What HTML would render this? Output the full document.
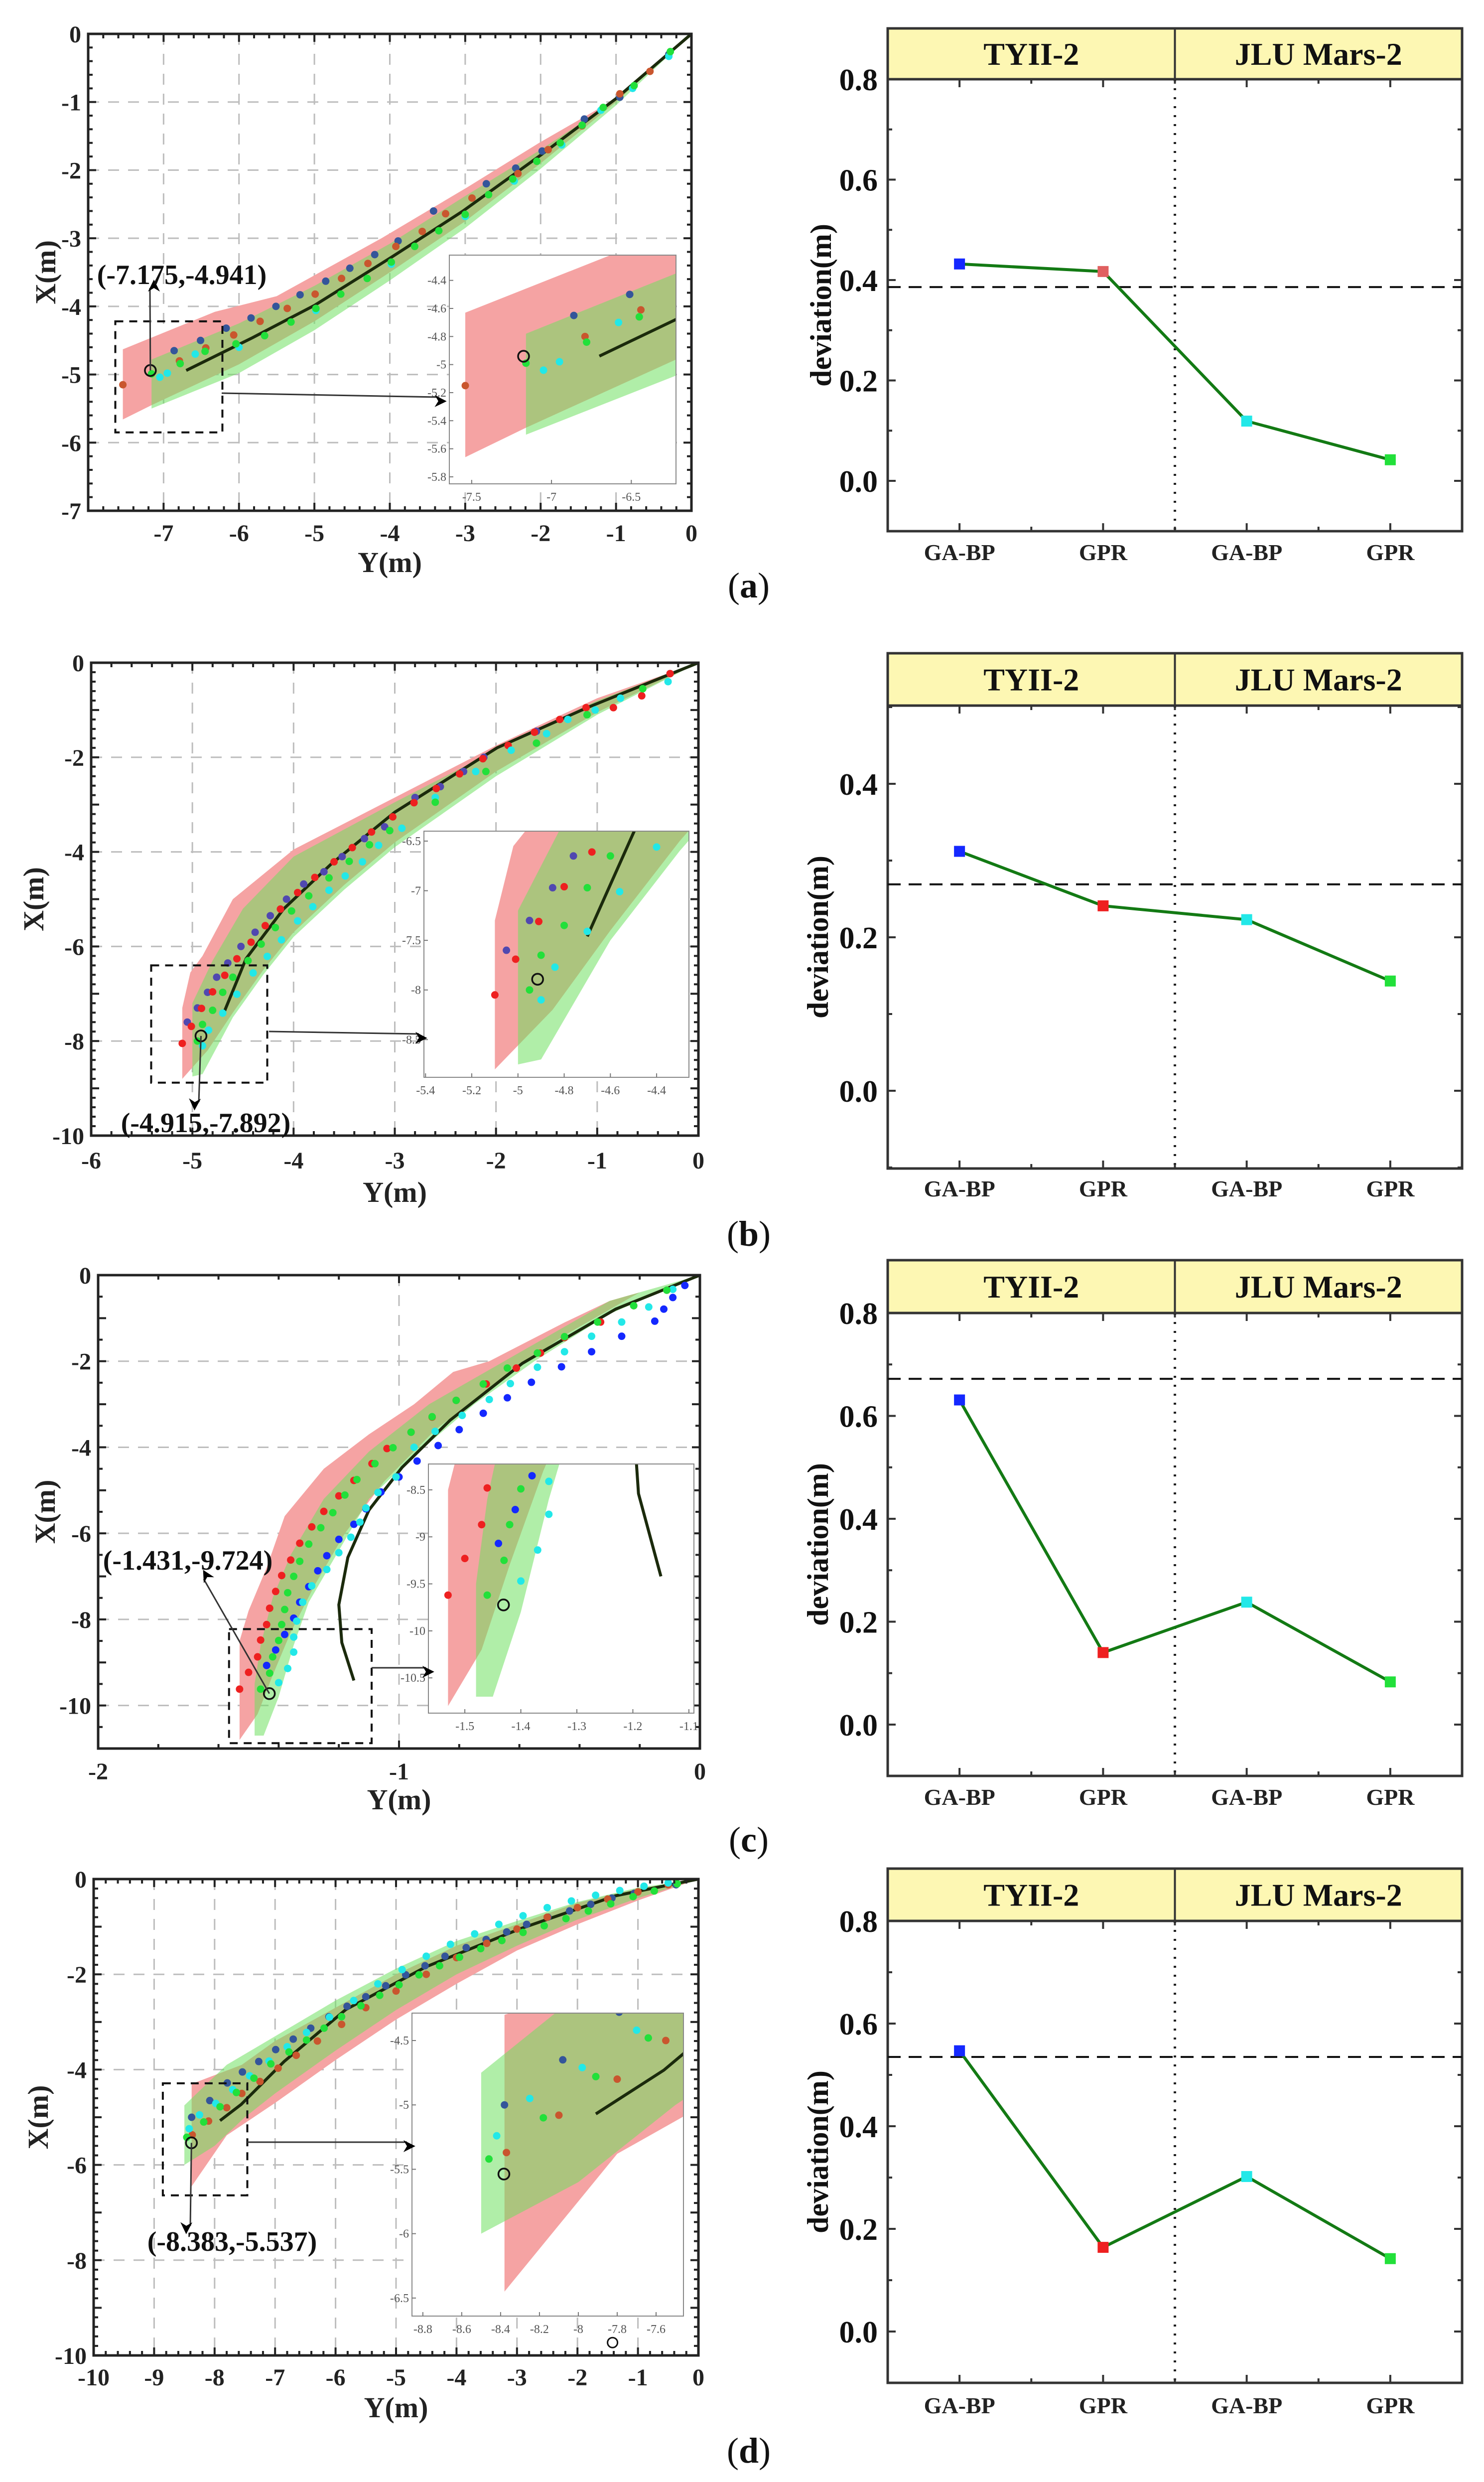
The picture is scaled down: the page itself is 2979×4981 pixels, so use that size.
<!DOCTYPE html>
<html><head><meta charset="utf-8"><title>Trajectory and deviation comparison</title>
<style>
html,body{margin:0;padding:0;background:#fff;width:2979px;height:4981px;overflow:hidden;}
svg{display:block;overflow:hidden;font-family:"Liberation Serif","DejaVu Serif",serif;}
</style></head>
<body>
<svg id="fig" xmlns="http://www.w3.org/2000/svg" width="2979" height="4981" viewBox="0 0 2979 4981">
<defs>
<marker id="ah" viewBox="0 0 10 10" refX="9" refY="5" markerWidth="8" markerHeight="8" orient="auto-start-reverse" markerUnits="userSpaceOnUse" style="overflow:visible">
<path d="M0,0 L10,5 L0,10 L3,5 z" fill="#000" transform="scale(3) translate(-7,-5) translate(7,5)"/>
</marker>
</defs>
<rect x="0" y="0" width="2979" height="4981" fill="#fff"/>
</svg>
<script>
// ---------------- DATA: right-hand deviation charts ----------------
const devCategories = ['GA-BP','GPR','GA-BP','GPR'];
const devGroups = ['TYII-2','JLU Mars-2'];
const devA = [0.432,0.417,0.119,0.042];
const devB = [0.312,0.241,0.223,0.143];
const devC = [0.631,0.140,0.238,0.083];
const devD = [0.547,0.164,0.302,0.142];
const devRefA = 0.386, devRefB = 0.269, devRefC = 0.672, devRefD = 0.535;
const devTicksA = [0,0.2,0.4,0.6,0.8];
const devTicksB = [0,0.2,0.4];
const devTicksC = [0,0.2,0.4,0.6,0.8];
const devTicksD = [0,0.2,0.4,0.6,0.8];

// ---------------- DATA: trajectory panel (a) [Y, X] ----------------
const aLine = [[0,0],[-1,-0.95],[-2,-1.78],[-3.03,-2.6],[-3.98,-3.28],[-4.99,-3.98],[-5.82,-4.46],[-6.70,-4.94]];
const aBlue = [[-0.3,-0.3],[-0.95,-0.93],[-1.42,-1.25],[-1.98,-1.72],[-2.33,-1.97],[-2.72,-2.2],[-3.42,-2.6],[-3.89,-3.04],[-4.2,-3.24],[-4.53,-3.44],[-4.85,-3.63],[-5.19,-3.83],[-5.51,-4.0],[-5.84,-4.17],[-6.17,-4.32],[-6.51,-4.5],[-6.86,-4.65]];
const aRed = [[-0.55,-0.55],[-0.95,-0.88],[-1.45,-1.35],[-1.9,-1.7],[-2.3,-2.05],[-2.91,-2.41],[-3.26,-2.64],[-3.57,-2.90],[-3.92,-3.12],[-4.29,-3.37],[-4.64,-3.59],[-4.99,-3.82],[-5.36,-4.03],[-5.72,-4.22],[-6.07,-4.42],[-6.44,-4.61],[-6.79,-4.80],[-7.54,-5.15]];
const aGreen = [[-0.28,-0.26],[-0.76,-0.76],[-1.17,-1.08],[-1.45,-1.34],[-1.74,-1.60],[-2.05,-1.87],[-2.37,-2.13],[-2.69,-2.36],[-3.0,-2.65],[-3.35,-2.89],[-3.67,-3.12],[-3.98,-3.35],[-4.30,-3.59],[-4.65,-3.82],[-4.98,-4.03],[-5.31,-4.23],[-5.66,-4.43],[-6.04,-4.55],[-6.45,-4.66],[-6.78,-4.84],[-7.16,-4.99]];
const aCyan = [[-0.3,-0.33],[-0.78,-0.8],[-1.2,-1.12],[-1.72,-1.63],[-2.35,-2.16],[-3.0,-2.68],[-3.98,-3.38],[-4.98,-4.06],[-6.0,-4.6],[-6.58,-4.7],[-6.95,-4.98],[-7.05,-5.04]];
const aRedBand = [[0,0],[-1,-0.95],[-2.02,-1.6],[-2.97,-2.25],[-4.11,-3.0],[-5.5,-3.85],[-6.32,-4.08],[-7.54,-4.63],[-7.54,-5.66],[-7.16,-5.45],[-6,-4.85],[-5,-4.22],[-4,-3.5],[-3,-2.75],[-2,-1.9],[-1,-1.0],[0,0]];
const aGreenBand = [[0,0],[-1,-0.97],[-2,-1.7],[-3,-2.38],[-4,-3.08],[-5,-3.7],[-6,-4.25],[-7.16,-4.78],[-7.16,-5.5],[-6,-4.98],[-5,-4.35],[-4,-3.62],[-3,-2.85],[-2,-1.98],[-1,-1.05],[0,0]];
const aPoint = [-7.175,-4.941];

// ---------------- DATA: trajectory panel (b) ----------------
const bLine = [[0,0],[-1.1,-0.95],[-1.99,-1.80],[-3.0,-3.16],[-3.63,-4.26],[-4.1,-5.21],[-4.47,-6.26],[-4.70,-7.46]];
const bBlue = [[-0.28,-0.23],[-1.6,-1.45],[-2.12,-2.0],[-2.32,-2.3],[-2.55,-2.62],[-2.8,-2.85],[-3.1,-3.47],[-3.3,-3.72],[-3.52,-4.1],[-3.7,-4.42],[-3.9,-4.68],[-4.07,-5.0],[-4.23,-5.35],[-4.38,-5.7],[-4.52,-6.0],[-4.65,-6.35],[-4.76,-6.65],[-4.85,-6.97],[-4.95,-7.3],[-5.05,-7.6]];
const bRed = [[-0.28,-0.23],[-0.56,-0.70],[-0.84,-0.95],[-1.11,-0.95],[-1.37,-1.2],[-1.62,-1.47],[-1.88,-1.75],[-2.13,-2.03],[-2.36,-2.35],[-2.59,-2.66],[-2.81,-2.96],[-3.02,-3.26],[-3.23,-3.58],[-3.42,-3.91],[-3.60,-4.21],[-3.79,-4.54],[-3.96,-4.86],[-4.13,-5.21],[-4.28,-5.56],[-4.42,-5.91],[-4.56,-6.26],[-4.68,-6.61],[-4.80,-6.96],[-4.91,-7.31],[-5.01,-7.69],[-5.10,-8.05]];
const bGreen = [[-0.55,-0.55],[-1.1,-1.1],[-1.6,-1.7],[-2.1,-2.3],[-2.6,-2.95],[-3.05,-3.55],[-3.25,-3.85],[-3.45,-4.2],[-3.65,-4.55],[-3.85,-4.93],[-4.02,-5.25],[-4.18,-5.6],[-4.32,-5.95],[-4.45,-6.3],[-4.6,-6.65],[-4.7,-6.97],[-4.8,-7.35],[-4.9,-7.65],[-4.95,-8.0]];
const bCyan = [[-0.3,-0.4],[-0.77,-0.75],[-1.02,-1.0],[-1.29,-1.2],[-1.5,-1.5],[-1.85,-1.85],[-2.2,-2.3],[-2.6,-2.85],[-2.93,-3.5],[-3.16,-3.86],[-3.32,-4.21],[-3.49,-4.51],[-3.65,-4.81],[-3.81,-5.16],[-3.96,-5.46],[-4.12,-5.86],[-4.26,-6.21],[-4.40,-6.56],[-4.56,-7.01],[-4.70,-7.41],[-4.84,-7.77],[-4.90,-8.1]];
const bRedBand = [[0,0],[-1,-0.75],[-2,-1.75],[-3,-2.85],[-4,-3.95],[-4.6,-5.0],[-4.9,-6.2],[-5.02,-6.55],[-5.1,-7.3],[-5.1,-8.8],[-4.85,-8.2],[-4.6,-7.4],[-4.3,-6.5],[-4.0,-5.7],[-3.5,-4.7],[-3,-3.8],[-2,-2.3],[-1,-1.05],[0,0]];
const bGreenBand = [[0,0],[-1,-0.8],[-2,-1.85],[-3,-2.95],[-4,-4.1],[-4.5,-5.2],[-4.8,-6.3],[-5.0,-7.2],[-5.0,-8.75],[-4.9,-8.7],[-4.6,-7.5],[-4.3,-6.6],[-4.0,-5.8],[-3.5,-4.8],[-3,-3.9],[-2,-2.4],[-1,-1.1],[0,0]];
const bPoint = [-4.915,-7.892];

// ---------------- DATA: trajectory panel (c) ----------------
const cLine = [[0,0],[-0.28,-0.79],[-0.59,-2.05],[-0.83,-3.37],[-0.99,-4.47],[-1.10,-5.46],[-1.17,-6.56],[-1.20,-7.66],[-1.19,-8.54],[-1.15,-9.42]];
const cBlue = [[-0.05,-0.24],[-0.09,-0.52],[-0.12,-0.79],[-0.15,-1.07],[-0.26,-1.42],[-0.36,-1.78],[-0.46,-2.13],[-0.56,-2.49],[-0.64,-2.85],[-0.72,-3.21],[-0.80,-3.59],[-0.87,-3.96],[-0.94,-4.32],[-1.0,-4.69],[-1.06,-5.04],[-1.11,-5.43],[-1.15,-5.79],[-1.20,-6.14],[-1.24,-6.52],[-1.27,-6.87],[-1.30,-7.24],[-1.33,-7.6],[-1.35,-7.97],[-1.38,-8.35],[-1.41,-8.71],[-1.44,-9.07]];
const cCyan = [[-0.09,-0.33],[-0.17,-0.74],[-0.26,-1.09],[-0.36,-1.42],[-0.45,-1.78],[-0.54,-2.14],[-0.63,-2.52],[-0.70,-2.89],[-0.79,-3.26],[-0.88,-3.63],[-0.95,-4.0],[-1.01,-4.69],[-1.07,-5.05],[-1.11,-5.41],[-1.13,-5.74],[-1.16,-6.09],[-1.20,-6.45],[-1.24,-6.84],[-1.29,-7.22],[-1.32,-7.6],[-1.34,-8.04],[-1.35,-8.41],[-1.35,-8.76],[-1.37,-9.14],[-1.40,-9.47]];
const cRed = [[-0.11,-0.35],[-0.22,-0.71],[-0.33,-1.09],[-0.45,-1.45],[-0.53,-1.81],[-0.61,-2.16],[-0.71,-2.53],[-0.81,-2.91],[-0.89,-3.30],[-0.96,-3.65],[-1.04,-4.03],[-1.09,-4.38],[-1.15,-4.77],[-1.20,-5.13],[-1.25,-5.49],[-1.29,-5.85],[-1.33,-6.23],[-1.36,-6.62],[-1.39,-6.98],[-1.41,-7.35],[-1.43,-7.74],[-1.44,-8.12],[-1.46,-8.48],[-1.47,-8.87],[-1.50,-9.23],[-1.53,-9.62]];
const cGreen = [[-0.11,-0.35],[-0.22,-0.71],[-0.34,-1.09],[-0.45,-1.43],[-0.54,-1.81],[-0.64,-2.16],[-0.72,-2.53],[-0.81,-2.91],[-0.89,-3.29],[-0.96,-3.65],[-1.02,-4.01],[-1.08,-4.38],[-1.14,-4.75],[-1.18,-5.11],[-1.22,-5.52],[-1.26,-5.87],[-1.30,-6.25],[-1.33,-6.65],[-1.35,-7.0],[-1.37,-7.38],[-1.38,-7.77],[-1.39,-8.12],[-1.40,-8.49],[-1.42,-8.87],[-1.43,-9.25],[-1.46,-9.62]];
const cRedBand = [[0,0],[-0.3,-0.6],[-0.45,-1.1],[-0.7,-2.0],[-0.82,-2.25],[-0.95,-3.0],[-1.1,-3.7],[-1.25,-4.5],[-1.38,-5.6],[-1.44,-6.8],[-1.5,-7.8],[-1.53,-8.5],[-1.53,-10.8],[-1.47,-10.2],[-1.42,-9.3],[-1.36,-8.3],[-1.28,-7.2],[-1.18,-6.0],[-1.05,-4.8],[-0.88,-3.6],[-0.68,-2.5],[-0.45,-1.4],[-0.2,-0.4],[0,0]];
const cGreenBand = [[0,0],[-0.3,-0.6],[-0.55,-1.6],[-0.7,-2.2],[-0.9,-3.0],[-1.1,-4.1],[-1.25,-5.2],[-1.36,-6.5],[-1.42,-7.5],[-1.46,-8.6],[-1.48,-9.5],[-1.48,-10.7],[-1.45,-10.7],[-1.4,-9.8],[-1.35,-8.6],[-1.3,-7.6],[-1.2,-6.4],[-1.1,-5.2],[-0.95,-4.2],[-0.75,-3.0],[-0.55,-2.0],[-0.3,-0.9],[0,0]];
const cPoint = [-1.431,-9.724];

// ---------------- DATA: trajectory panel (d) ----------------
const dLine = [[0,0],[-1.37,-0.35],[-2.94,-1.04],[-4.50,-1.84],[-5.83,-2.74],[-6.85,-3.83],[-7.56,-4.73],[-7.91,-5.07]];
const dBlue = [[-0.37,-0.12],[-1.06,-0.3],[-1.43,-0.4],[-1.78,-0.53],[-2.13,-0.67],[-2.49,-0.80],[-2.84,-0.95],[-3.17,-1.11],[-3.51,-1.27],[-3.84,-1.44],[-4.19,-1.62],[-4.52,-1.82],[-4.84,-2.01],[-5.17,-2.24],[-5.50,-2.47],[-5.81,-2.67],[-6.11,-2.89],[-6.41,-3.13],[-6.70,-3.36],[-6.99,-3.58],[-7.27,-3.83],[-7.54,-4.05],[-7.79,-4.28],[-8.08,-4.65],[-8.38,-5.0]];
const dGreen = [[-0.35,-0.10],[-0.73,-0.25],[-1.08,-0.37],[-1.45,-0.52],[-1.82,-0.67],[-2.19,-0.83],[-2.55,-0.98],[-2.90,-1.12],[-3.25,-1.29],[-3.60,-1.46],[-3.95,-1.64],[-4.28,-1.82],[-4.62,-2.01],[-4.95,-2.22],[-5.27,-2.44],[-5.58,-2.66],[-5.90,-2.89],[-6.19,-3.13],[-6.48,-3.38],[-6.77,-3.63],[-7.07,-3.88],[-7.35,-4.18],[-7.64,-4.48],[-7.91,-4.78],[-8.18,-5.10],[-8.46,-5.42]];
const dRed = [[-0.5,-0.12],[-1.0,-0.27],[-1.5,-0.42],[-2.0,-0.6],[-2.5,-0.8],[-3.0,-1.05],[-3.5,-1.35],[-4.0,-1.65],[-4.5,-2.0],[-5.0,-2.35],[-5.5,-2.7],[-5.9,-3.05],[-6.3,-3.4],[-6.65,-3.7],[-6.95,-3.97],[-7.25,-4.25],[-7.55,-4.5],[-7.8,-4.8],[-8.1,-5.08],[-8.37,-5.37]];
const dCyan = [[-0.5,-0.08],[-0.9,-0.15],[-1.3,-0.24],[-1.7,-0.34],[-2.1,-0.46],[-2.5,-0.6],[-2.9,-0.77],[-3.3,-0.95],[-3.7,-1.15],[-4.1,-1.37],[-4.5,-1.62],[-4.9,-1.9],[-5.3,-2.2],[-5.7,-2.55],[-6.1,-2.9],[-6.48,-3.22],[-6.8,-3.52],[-7.1,-3.82],[-7.42,-4.13],[-7.7,-4.42],[-7.98,-4.71],[-8.25,-4.95],[-8.42,-5.24]];
const dRedBand = [[0,0],[-1,-0.2],[-2,-0.5],[-3,-0.95],[-4,-1.4],[-5,-2.0],[-6,-2.7],[-7,-3.4],[-7.55,-3.9],[-8.38,-4.3],[-8.38,-6.45],[-7.8,-5.38],[-7,-4.7],[-6,-3.8],[-5,-2.95],[-4,-2.2],[-3,-1.5],[-2,-0.95],[-1,-0.45],[0,0]];
const dGreenBand = [[0,0],[-1,-0.18],[-2,-0.48],[-3,-0.88],[-4,-1.3],[-5,-1.88],[-6,-2.55],[-7,-3.3],[-7.8,-3.9],[-8.5,-4.75],[-8.5,-6.0],[-8.0,-5.6],[-7.5,-5.0],[-7,-4.5],[-6,-3.6],[-5,-2.75],[-4,-2.0],[-3,-1.4],[-2,-0.85],[-1,-0.4],[0,0]];
const dPoint = [-8.383,-5.537];
const dStrayPoint = [-1.42,-9.73];

// ---------------- helpers ----------------
const NS = 'http://www.w3.org/2000/svg';
const svg = document.getElementById('fig');
function mk(tag, attrs, parent) {
  const e = document.createElementNS(NS, tag);
  for (const k in attrs) e.setAttribute(k, attrs[k]);
  (parent || svg).appendChild(e);
  return e;
}
function named(e, n) {
  
  
  return e;
}
function txt(str, attrs, parent, n) {
  const t = mk('text', attrs, parent);
  t.textContent = str;
  
  
  return t;
}
const COL = {blueDark:'#34559a', blue:'#1428ff', red:'#ee2020', orange:'#c9562e', green:'#22e03a', cyan:'#22e8e8'};

// ---------------- trajectory panel ----------------
let clipN = 0;
function drawTraj(P, D) {
  const g = named(mk('g', {}), 'trajectory-panel-' + P.id);
  const sx = v => P.x0 + (v - P.ymin) / (P.ymax - P.ymin) * (P.x1 - P.x0);
  const sy = v => P.y0 + (P.xmax - v) / (P.xmax - P.xmin) * (P.y1 - P.y0);
  const grid = named(mk('g', {stroke:'#bdbdbd','stroke-width':3,'stroke-dasharray':'22 18'}, g), 'grid-lines');
  P.yGrid.forEach(v => { const l = mk('line', {x1:sx(v), x2:sx(v), y1:P.y0, y2:P.y1}, grid); named(l, 'grid-vertical'); });
  P.xGrid.forEach(v => { const l = mk('line', {x1:P.x0, x2:P.x1, y1:sy(v), y2:sy(v)}, grid); named(l, 'grid-horizontal'); });
  drawContent(g, D, sx, sy, P.x0, P.y0, P.x1, P.y1, 'main');
  const fr = mk('rect', {x:P.x0, y:P.y0, width:P.x1-P.x0, height:P.y1-P.y0, fill:'none', stroke:'#222', 'stroke-width':5}, g);
  named(fr, 'plot-frame');
  const tk = named(mk('g', {stroke:'#222','stroke-width':4}, g), 'axis-ticks');
  const yspan = P.ymax - P.ymin, xspan = P.xmax - P.xmin;
  for (let i = 0; i <= yspan * P.ySub; i++) {
    const v = P.ymin + i / P.ySub; const major = i % P.ySub === 0; const L = major ? 16 : 9;
    mk('line', {x1:sx(v), x2:sx(v), y1:P.y1, y2:P.y1 - L}, tk);
    mk('line', {x1:sx(v), x2:sx(v), y1:P.y0, y2:P.y0 + L}, tk);
  }
  for (let i = 0; i <= xspan * P.xSub; i++) {
    const v = P.xmin + i / P.xSub; const major = i % P.xSub === 0; const L = major ? 16 : 9;
    mk('line', {x1:P.x0, x2:P.x0 + L, y1:sy(v), y2:sy(v)}, tk);
    mk('line', {x1:P.x1, x2:P.x1 - L, y1:sy(v), y2:sy(v)}, tk);
  }
  P.yLabels.forEach(v => txt(String(v), {x:sx(v), y:P.yLabelBase, 'text-anchor':'middle', 'font-size':48, 'font-weight':'bold', fill:'#222'}, g, 'y-tick-label'));
  P.xLabels.forEach(v => txt(String(v), {x:P.x0 - 14, y:sy(v) + 17, 'text-anchor':'end', 'font-size':48, 'font-weight':'bold', fill:'#222'}, g, 'x-tick-label'));
  txt('Y(m)', {x:(P.x0+P.x1)/2, y:P.yTitleBase, 'text-anchor':'middle', 'font-size':58, 'font-weight':'bold', fill:'#222'}, g, 'y-axis-title');
  txt('X(m)', {x:0, y:0, transform:'translate(' + (P.xTitleX + 20) + ',' + ((P.y0+P.y1)/2) + ') rotate(-90)', 'text-anchor':'middle', 'font-size':58, 'font-weight':'bold', fill:'#222'}, g, 'x-axis-title');
  const I = P.inset;
  const zb = mk('rect', {x:sx(I.ymin), y:sy(I.xmax), width:sx(I.ymax)-sx(I.ymin), height:sy(I.xmin)-sy(I.xmax), fill:'none', stroke:'#111', 'stroke-width':4, 'stroke-dasharray':'16 12'}, g);
  named(zb, 'zoom-region-box');
  const isx = v => I.px0 + (v - I.ymin) / (I.ymax - I.ymin) * (I.px1 - I.px0);
  const isy = v => I.py0 + (I.xmax - v) / (I.xmax - I.xmin) * (I.py1 - I.py0);
  const ig = named(mk('g', {}, g), 'inset-plot');
  const ibg = mk('rect', {x:I.px0, y:I.py0, width:I.px1-I.px0, height:I.py1-I.py0, fill:'#fff'}, ig);
  named(ibg, 'inset-background');
  drawContent(ig, D, isx, isy, I.px0, I.py0, I.px1, I.py1, 'inset');
  const ifr = mk('rect', {x:I.px0, y:I.py0, width:I.px1-I.px0, height:I.py1-I.py0, fill:'none', stroke:'#888', 'stroke-width':2}, ig);
  named(ifr, 'inset-frame');
  I.yTicks.forEach(v => {
    mk('line', {x1:isx(v), x2:isx(v), y1:I.py1, y2:I.py1 - 8, stroke:'#777', 'stroke-width':2}, ig);
    txt(String(v), {x:isx(v), y:I.py1 + 34, 'text-anchor':'middle', 'font-size':24, fill:'#555'}, ig, 'inset-y-tick-label');
  });
  I.xTicks.forEach(v => {
    mk('line', {x1:I.px0, x2:I.px0 + 8, y1:isy(v), y2:isy(v), stroke:'#777', 'stroke-width':2}, ig);
    txt(String(v), {x:I.px0 - 6, y:isy(v) + 8, 'text-anchor':'end', 'font-size':24, fill:'#555'}, ig, 'inset-x-tick-label');
  });
  const ha = mk('line', {x1:P.hArrow[0], y1:P.hArrow[1], x2:P.hArrow[2], y2:P.hArrow[3], stroke:'#333', 'stroke-width':3, 'marker-end':'url(#ah)'}, g);
  named(ha, 'zoom-arrow');
  const cx = sx(D.point[0]), cy = sy(D.point[1]);
  const pa = mk('line', {x1:cx, y1:cy, x2:P.annArrow[0], y2:P.annArrow[1], stroke:'#333', 'stroke-width':3, 'marker-end':'url(#ah)'}, g);
  named(pa, 'annotation-arrow');
  txt(P.annText, {x:P.annX, y:P.annY, 'text-anchor':'middle', 'font-size':56, 'font-weight':'bold', fill:'#111'}, g, 'point-annotation');
}
function drawContent(parent, D, sx, sy, x0, y0, x1, y1, tag) {
  clipN++;
  const cp = mk('clipPath', {id:'cp' + clipN}, parent);
  mk('rect', {x:x0, y:y0, width:x1-x0, height:y1-y0}, cp);
  const g = named(mk('g', {'clip-path':'url(#cp' + clipN + ')'}, parent), tag + '-data');
  const pts = arr => arr.map(p => sx(p[0]).toFixed(1) + ',' + sy(p[1]).toFixed(1)).join(' ');
  const bands = named(mk('g', {}, g), 'confidence-bands');
  const rb = mk('polygon', {points:pts(D.redBand), fill:'#f5a3a3'}, bands);
  named(rb, 'gpr-band');
  const gb = mk('polygon', {points:pts(D.greenBand), fill:'#70e060', 'fill-opacity':0.55}, bands);
  named(gb, 'gpr-band-jlu');
  const ln = mk('polyline', {points:pts(D.line), fill:'none', stroke:'#1b2a0c', 'stroke-width':6}, g);
  named(ln, 'reference-trajectory');
  const series = [[D.blue, D.blueCol, 'ga-bp-tyii'], [D.red, D.redCol, 'gpr-tyii'], [D.cyan, COL.cyan, 'ga-bp-jlu'], [D.green, COL.green, 'gpr-jlu']];
  series.forEach(s => {
    const sg = named(mk('g', {fill:s[1]}, g), s[2] + '-points');
    s[0].forEach(p => { const c = mk('circle', {cx:sx(p[0]), cy:sy(p[1]), r:7.5}, sg); named(c, s[2] + '-point'); });
  });
  const pc = mk('circle', {cx:sx(D.point[0]), cy:sy(D.point[1]), r:11, fill:'none', stroke:'#111', 'stroke-width':3.5}, g);
  named(pc, 'highlight-point');
  if (D.stray) { const sc = mk('circle', {cx:sx(D.stray[0]), cy:sy(D.stray[1]), r:10, fill:'none', stroke:'#111', 'stroke-width':3}, g); named(sc, 'extra-marker'); }
}

// ---------------- deviation panel ----------------
function drawDev(P, vals, ref, ticks) {
  const g = named(mk('g', {}), 'deviation-panel-' + P.id);
  const X0 = 1782, X1 = 2935, step = (X1 - X0) / 4;
  const sx = i => X0 + (i + 0.5) * step;
  const sy = v => P.zeroY - v / 0.1 * P.per01;
  const mid = X0 + 2 * step;
  const hd = mk('rect', {x:X0, y:P.hTop, width:X1-X0, height:P.hBot-P.hTop, fill:'#fdf7b3', stroke:'#333', 'stroke-width':5}, g);
  named(hd, 'group-header');
  mk('line', {x1:mid, x2:mid, y1:P.hTop, y2:P.hBot, stroke:'#333', 'stroke-width':4}, g);
  txt(devGroups[0], {x:(X0+mid)/2, y:(P.hTop+P.hBot)/2 + 22, 'text-anchor':'middle', 'font-size':64, 'font-weight':'bold', fill:'#111'}, g, 'group-label-tyii');
  txt(devGroups[1], {x:(mid+X1)/2, y:(P.hTop+P.hBot)/2 + 22, 'text-anchor':'middle', 'font-size':64, 'font-weight':'bold', fill:'#111'}, g, 'group-label-jlu');
  const fr = mk('rect', {x:X0, y:P.hBot, width:X1-X0, height:P.bot-P.hBot, fill:'none', stroke:'#333', 'stroke-width':5}, g);
  named(fr, 'plot-frame');
  const dv = mk('line', {x1:mid, x2:mid, y1:P.hBot, y2:P.bot, stroke:'#222', 'stroke-width':5, 'stroke-dasharray':'4 14'}, g);
  named(dv, 'group-divider');
  for (let v = -0.1; v <= P.top + 1e-6; v += 0.1) {
    const y = sy(v); if (y < P.hBot - 1 || y > P.bot + 1) continue;
    const major = Math.abs(Math.round(v * 10) % 2) === 0; const L = major ? 16 : 9;
    mk('line', {x1:X0, x2:X0 + L, y1:y, y2:y, stroke:'#333', 'stroke-width':4}, g);
    mk('line', {x1:X1, x2:X1 - L, y1:y, y2:y, stroke:'#333', 'stroke-width':4}, g);
  }
  ticks.forEach(v => txt(v.toFixed(1), {x:1762, y:sy(v) + 22, 'text-anchor':'end', 'font-size':62, 'font-weight':'bold', fill:'#111'}, g, 'y-tick-label'));
  for (let i = 0; i < 8; i++) {
    const xx = X0 + step / 2 + i * step / 2;
    if (xx > X1) continue;
    const L = i % 2 === 0 ? 16 : 9;
    mk('line', {x1:xx, x2:xx, y1:P.bot, y2:P.bot - L, stroke:'#333', 'stroke-width':4}, g);
    mk('line', {x1:xx, x2:xx, y1:P.hBot, y2:P.hBot + L, stroke:'#333', 'stroke-width':4}, g);
  }
  devCategories.forEach((c, i) => txt(c, {x:sx(i), y:P.catY + 16, 'text-anchor':'middle', 'font-size':46, 'font-weight':'bold', fill:'#222'}, g, 'x-category-label'));
  txt('deviation(m)', {x:0, y:0, transform:'translate(' + (P.titleX + 20) + ',' + ((P.hBot+P.bot)/2) + ') rotate(-90)', 'text-anchor':'middle', 'font-size':60, 'font-weight':'bold', fill:'#111'}, g, 'y-axis-title');
  const rl = mk('line', {x1:X0, x2:X1, y1:sy(ref), y2:sy(ref), stroke:'#111', 'stroke-width':4, 'stroke-dasharray':'26 16'}, g);
  named(rl, 'mean-reference-line');
  const pl = mk('polyline', {points:vals.map((v, i) => sx(i) + ',' + sy(v)).join(' '), fill:'none', stroke:'#137a14', 'stroke-width':6}, g);
  named(pl, 'deviation-line');
  const mc = [P.firstCol, P.secondCol, COL.cyan, COL.green];
  vals.forEach((v, i) => { const r = mk('rect', {x:sx(i) - 11, y:sy(v) - 11, width:22, height:22, fill:mc[i]}, g); named(r, 'deviation-marker-' + i); });
}
function panelLabel(letter, y) {
  const t = mk('text', {x:1503, y:y + 24, 'text-anchor':'middle', 'font-size':72, fill:'#111'});
  named(t, 'panel-label-' + letter);
  const a = mk('tspan', {}, t); a.textContent = '(';
  const b = mk('tspan', {'font-weight':'bold'}, t); b.textContent = letter;
  const c = mk('tspan', {}, t); c.textContent = ')';
}

// ---------------- build ----------------
drawTraj({id:'a', x0:177, x1:1388, y0:68, y1:1025, ymin:-8, ymax:0, xmin:-7, xmax:0, ySub:5, xSub:5,
  yGrid:[-7,-6,-5,-4,-3,-2,-1], xGrid:[-1,-2,-3,-4,-5,-6], yLabels:[-7,-6,-5,-4,-3,-2,-1,0], xLabels:[0,-1,-2,-3,-4,-5,-6,-7],
  yLabelBase:1086, yTitleBase:1148, xTitleX:91,
  inset:{px0:902, px1:1357, py0:512, py1:971, ymin:-7.64, ymax:-6.22, xmin:-5.85, xmax:-4.22, yTicks:[-7.5,-7,-6.5], xTicks:[-4.4,-4.6,-4.8,-5,-5.2,-5.4,-5.6,-5.8]},
  hArrow:[445,789,880,797], annArrow:[301,578], annText:'(-7.175,-4.941)', annX:365, annY:570},
  {line:aLine, blue:aBlue, red:aRed, green:aGreen, cyan:aCyan, redBand:aRedBand, greenBand:aGreenBand, point:aPoint, blueCol:COL.blueDark, redCol:COL.orange});
drawTraj({id:'b', x0:183, x1:1402, y0:1330, y1:2279, ymin:-6, ymax:0, xmin:-10, xmax:0, ySub:5, xSub:5,
  yGrid:[-5,-4,-3,-2,-1], xGrid:[-2,-4,-6,-8], yLabels:[-6,-5,-4,-3,-2,-1,0], xLabels:[0,-2,-4,-6,-8,-10],
  yLabelBase:2345, yTitleBase:2412, xTitleX:67,
  inset:{px0:851, px1:1383, py0:1668, py1:2162, ymin:-5.407, ymax:-4.26, xmin:-8.88, xmax:-6.40, yTicks:[-5.4,-5.2,-5,-4.8,-4.6,-4.4], xTicks:[-6.5,-7,-7.5,-8,-8.5]},
  hArrow:[540,2070,841,2075], annArrow:[399,2212], annText:'(-4.915,-7.892)', annX:413, annY:2272},
  {line:bLine, blue:bBlue, red:bRed, green:bGreen, cyan:bCyan, redBand:bRedBand, greenBand:bGreenBand, point:bPoint, blueCol:'#5048b0', redCol:COL.red});
drawTraj({id:'c', x0:197, x1:1405, y0:2559, y1:3509, ymin:-2, ymax:0, xmin:-11, xmax:0, ySub:5, xSub:2,
  yGrid:[-1], xGrid:[-2,-4,-6,-8,-10], yLabels:[-2,-1,0], xLabels:[0,-2,-4,-6,-8,-10],
  yLabelBase:3571, yTitleBase:3631, xTitleX:90,
  inset:{px0:860, px1:1393, py0:2938, py1:3438, ymin:-1.565, ymax:-1.091, xmin:-10.875, xmax:-8.225, yTicks:[-1.5,-1.4,-1.3,-1.2,-1.1], xTicks:[-8.5,-9,-9.5,-10,-10.5]},
  hArrow:[746,3347,855,3347], annArrow:[409,3169], annText:'(-1.431,-9.724)', annX:377, annY:3150},
  {line:cLine, blue:cBlue, red:cRed, green:cGreen, cyan:cCyan, redBand:cRedBand, greenBand:cGreenBand, point:cPoint, blueCol:COL.blue, redCol:COL.red});
drawTraj({id:'d', x0:188, x1:1402, y0:3771, y1:4727, ymin:-10, ymax:0, xmin:-10, xmax:0, ySub:5, xSub:5,
  yGrid:[-9,-8,-7,-6,-5,-4,-3,-2,-1], xGrid:[-2,-4,-6,-8], yLabels:[-10,-9,-8,-7,-6,-5,-4,-3,-2,-1,0], xLabels:[0,-2,-4,-6,-8,-10],
  yLabelBase:4787, yTitleBase:4851, xTitleX:76,
  inset:{px0:827, px1:1372, py0:4040, py1:4648, ymin:-8.856, ymax:-7.459, xmin:-6.64, xmax:-4.287, yTicks:[-8.8,-8.6,-8.4,-8.2,-8,-7.8,-7.6], xTicks:[-4.5,-5,-5.5,-6,-6.5]},
  hArrow:[496,4299,817,4299], annArrow:[382,4467], annText:'(-8.383,-5.537)', annX:466, annY:4517},
  {line:dLine, blue:dBlue, red:dRed, green:dGreen, cyan:dCyan, redBand:dRedBand, greenBand:dGreenBand, point:dPoint, stray:dStrayPoint, blueCol:COL.blueDark, redCol:COL.orange});

drawDev({id:'a', hTop:57, hBot:159, zeroY:965, per01:100.75, bot:1066, top:0.8, catY:1108, titleX:1648, firstCol:COL.blue, secondCol:'#e06060'}, devA, devRefA, devTicksA);
drawDev({id:'b', hTop:1311, hBot:1416, zeroY:2189, per01:154, bot:2345, top:0.5, catY:2385, titleX:1642, firstCol:COL.blue, secondCol:COL.red}, devB, devRefB, devTicksB);
drawDev({id:'c', hTop:2529, hBot:2635, zeroY:3461, per01:103.25, bot:3564, top:0.8, catY:3606, titleX:1642, firstCol:COL.blue, secondCol:COL.red}, devC, devRefC, devTicksC);
drawDev({id:'d', hTop:3750, hBot:3855, zeroY:4679, per01:103, bot:4782, top:0.8, catY:4827, titleX:1642, firstCol:COL.blue, secondCol:COL.red}, devD, devRefD, devTicksD);

panelLabel('a', 1175);
panelLabel('b', 2476);
panelLabel('c', 3692);
panelLabel('d', 4918);
</script>
</body></html>
